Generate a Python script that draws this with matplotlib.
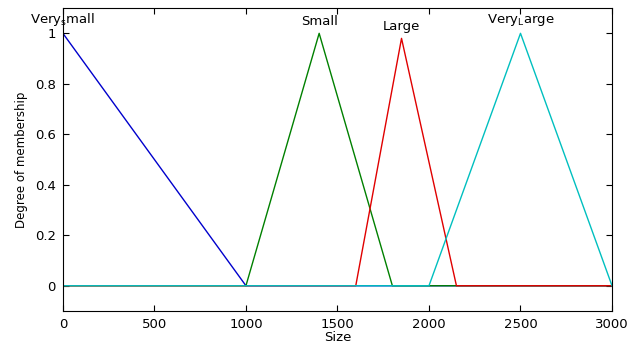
import numpy as np
import matplotlib
matplotlib.use("Agg")
import matplotlib.pyplot as plt

# membership function vertices (Size, degree)
vs_x = [0, 1000, 3000]
vs_y = [1, 0, 0]
small_x = [0, 1000, 1400, 1800, 3000]
small_y = [0, 0, 1, 0, 0]
large_x = [0, 1600, 1850, 2150, 3000]
large_y = [0, 0, 0.98, 0, 0]
vl_x = [0, 2000, 2500, 3000]
vl_y = [0, 0, 1, 0]

labels = [r"Very$_\mathregular{s}$mall", "Small", "Large", r"Very$_\mathregular{L}$arge"]
peaks = [0, 1400, 1850, 2500]
colors = ["#0000cc", "#008000", "#e00000", "#00bfbf"]

fig = plt.figure(figsize=(6.29, 3.45), dpi=100)
ax = fig.add_axes([0.100, 0.0986, 0.873, 0.878])

series = [(vs_x, vs_y), (small_x, small_y), (large_x, large_y), (vl_x, vl_y)]
for (x, y), c in zip(series, colors):
    ax.plot(x, y, color=c, lw=1)

for lab, px, (x, y) in zip(labels, peaks, series):
    ax.text(px, max(y) + 0.02, lab, ha="center", va="bottom", fontsize=9.5)

ax.set_xlim(0, 3000)
ax.set_ylim(-0.1, 1.1)
ax.set_xticks([0, 500, 1000, 1500, 2000, 2500, 3000])
ax.set_yticks([0, 0.2, 0.4, 0.6, 0.8, 1])
ax.set_yticklabels(["0", "0.2", "0.4", "0.6", "0.8", "1"])
ax.tick_params(direction="in", top=True, right=True, length=4, labelsize=9.5, width=0.8, pad=5)
ax.set_xlabel("Size", fontsize=9.5, labelpad=0)
ax.set_ylabel("Degree of membership", fontsize=8.5, labelpad=5)
for s in ax.spines.values():
    s.set_linewidth(0.8)

fig.savefig("out.png", dpi=100)
